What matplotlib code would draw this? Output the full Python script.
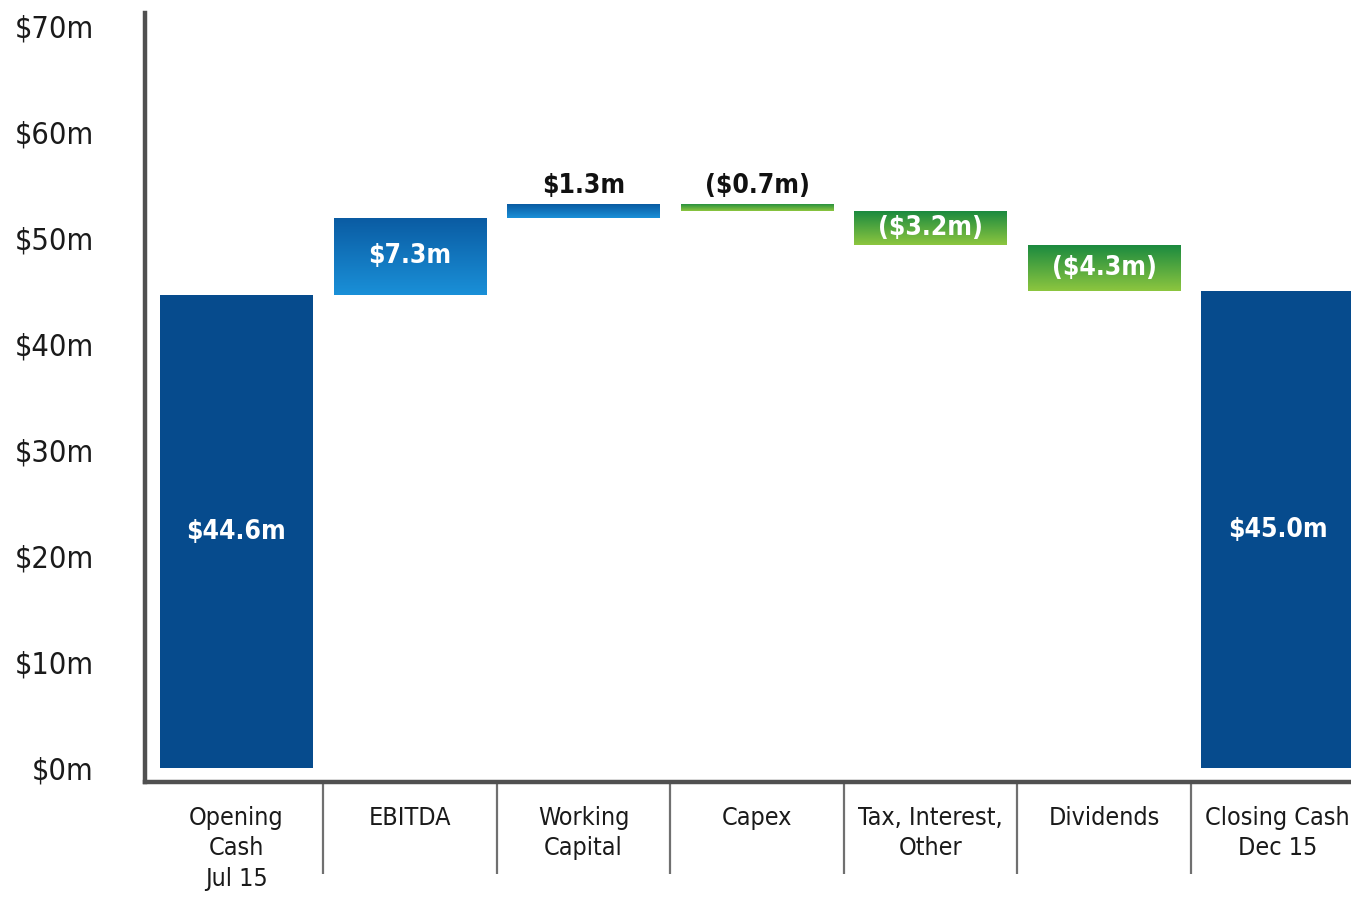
import numpy as np
import matplotlib
matplotlib.use("Agg")
import matplotlib.pyplot as plt
from matplotlib.colors import LinearSegmentedColormap

# ---- data ----
categories = ["Opening\nCash\nJul 15", "EBITDA", "Working\nCapital", "Capex",
              "Tax, Interest,\nOther", "Dividends", "Closing Cash\nDec 15"]
opening_cash = 44.6
changes = [7.3, 1.3, -0.7, -3.2, -4.3]
closing_cash = 45.0
y_ticks = [0, 10, 20, 30, 40, 50, 60, 70]
y_tick_labels = ["$0m", "$10m", "$20m", "$30m", "$40m", "$50m", "$60m", "$70m"]

def money(v):
    return f"${v:.1f}m" if v >= 0 else f"(${abs(v):.1f}m)"

# ---- style ----
plt.rcParams['font.family'] = ['DejaVu Sans']
plt.rcParams['font.stretch'] = 'condensed'
DARK_BLUE = "#064b8d"
blue_grad = LinearSegmentedColormap.from_list("bg", ["#1a90d8", "#0a5ba2"])
green_grad = LinearSegmentedColormap.from_list("gg", ["#8dc63f", "#1b8a3f"])
SPINE = "#505050"

fig = plt.figure(figsize=(13.51, 8.99), dpi=100)
W, H = 1351, 899
step = 173.5
x0_px = 236.5
xlim = (-(x0_px - 145) / step, 6.55)
ax_left = 145 / W
ax_w = (xlim[1] - xlim[0]) * step / W
top_px, bot_px = 13, 782
ax = fig.add_axes([ax_left, 1 - bot_px / H, ax_w, (bot_px - top_px) / H])

# waterfall geometry from data
n = len(categories)
xs = np.arange(n)
bottoms, heights, kinds = [0.0], [opening_cash], ["total"]
level = opening_cash
for c in changes:
    if c >= 0:
        bottoms.append(level); heights.append(c); kinds.append("up")
    else:
        bottoms.append(level + c); heights.append(-c); kinds.append("down")
    level += c
bottoms.append(0.0); heights.append(closing_cash); kinds.append("total")
values = [opening_cash] + changes + [closing_cash]

bar_w = 0.88
bars = ax.bar(xs, heights, bottom=bottoms, width=bar_w, zorder=2,
              color=[DARK_BLUE if k == "total" else "none" for k in kinds],
              edgecolor="none")

for rect, k in zip(bars, kinds):
    if k == "total":
        continue
    cmap = blue_grad if k == "up" else green_grad
    x, y = rect.get_x(), rect.get_y()
    w, h = rect.get_width(), rect.get_height()
    grad = np.linspace(0, 1, 256).reshape(-1, 1)
    im = ax.imshow(grad, extent=[x, x + w, y, y + h], origin="lower",
                   cmap=cmap, aspect="auto", zorder=3)
    im.set_clip_path(rect)

# value labels
for x, b, h, v, k in zip(xs, bottoms, heights, values, kinds):
    txt = money(v)
    if h >= 2:
        ax.text(x, b + h / 2, txt, ha="center", va="center", color="white",
                fontsize=19, fontweight="bold", zorder=5)
    else:
        ax.annotate(txt, (x, b + h), xytext=(0, 13), textcoords="offset points",
                    ha="center", va="center", color="#111111",
                    fontsize=19, fontweight="bold", zorder=5)

ax.set_xlim(*xlim)
ax.set_ylim(-1.3, 71.2)

ax.set_yticks(y_ticks)
ax.set_yticklabels(y_tick_labels, fontsize=22, color="#1a1a1a")
ax.set_xticks(xs)
ax.set_xticklabels(categories, fontsize=18, color="#1a1a1a", linespacing=1.35,
                   va="top")
ax.set_xticks(xs[:-1] + 0.5, minor=True)
ax.tick_params(axis="y", length=0, pad=37)
ax.tick_params(axis="x", which="major", length=0, pad=17)
ax.tick_params(axis="x", which="minor", length=66, width=1.6, color="#707070",
               direction="out")

for s in ["top", "right"]:
    ax.spines[s].set_visible(False)
for s in ["left", "bottom"]:
    ax.spines[s].set_color(SPINE)
    ax.spines[s].set_linewidth(3.2)
    ax.spines[s].set_capstyle("projecting")

fig.savefig("out.png", dpi=100)
